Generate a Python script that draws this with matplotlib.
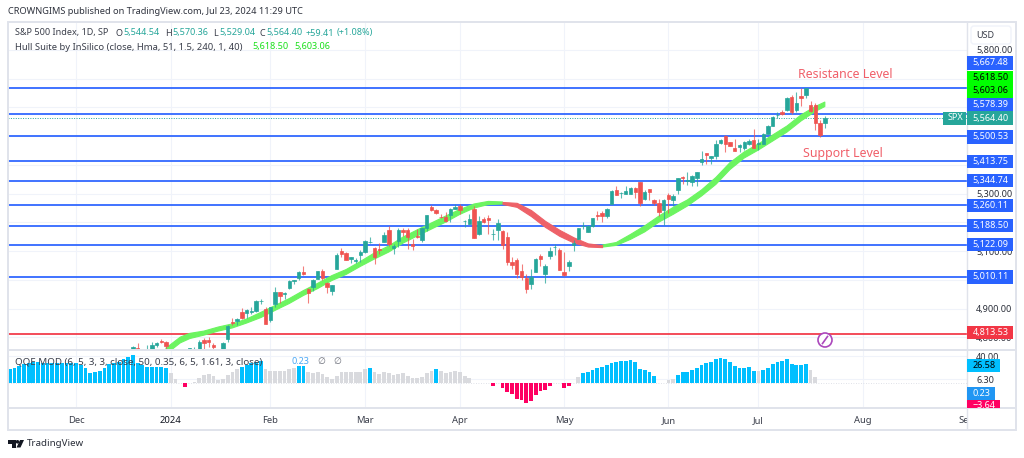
import numpy as np
import matplotlib
matplotlib.use('Agg')
import matplotlib.pyplot as plt
from matplotlib.patches import Rectangle, Circle, Polygon, FancyBboxPatch

plt.rcParams['font.family'] = ['Noto Sans', 'DejaVu Sans']

# daily candles, first one sits at bar 12 (bar 0 = 1 Dec 2023)
first_candle = 12
candle_open = [4743, 4764, 4724, 4753, 4758, 4773, 4786, 4783,
    4745, 4725, 4697, 4690, 4703, 4741, 4759, 4792, 4791, 4772, 4739, 4760, 4796, 4853, 4856, 4888, 4886, 4888, 4892, 4925, 4899,
    4861, 4916, 4957, 4950, 4973, 4995, 5005, 5027, 4968, 4976, 5004, 5032, 4989, 4963, 5039, 5100, 5093, 5074, 5067, 5085,
    5098, 5131, 5110, 5108, 5132, 5173, 5112, 5134, 5174, 5175, 5124, 5154, 5139, 5181, 5253, 5243, 5219, 5220, 5227, 5248,
    5258, 5205, 5194, 5247, 5159, 5211, 5217, 5160, 5172, 5171, 5150, 5064, 5068, 5031, 5006, 4987, 5028, 5084, 5020, 5084, 5114, 5103,
    5029, 5050, 5122, 5142, 5187, 5168, 5189, 5225, 5234, 5221, 5263, 5314, 5303, 5298, 5298, 5319, 5340, 5281, 5315, 5278, 5269, 5244,
    5297, 5278, 5314, 5357, 5343, 5341, 5353, 5409, 5441, 5424, 5431, 5476, 5499, 5479, 5459, 5461, 5460, 5473, 5488,
    5471, 5474, 5507, 5537, 5572, 5584, 5591, 5635, 5590, 5638, 5644, 5610, 5608, 5544, 5544.54]
candle_high = [4769, 4779, 4749, 4773, 4785, 4785, 4794, 4789,
    4754, 4729, 4726, 4721, 4764, 4765, 4790, 4798, 4802, 4782, 4744, 4785, 4842, 4868, 4866, 4903, 4898, 4907, 4929, 4932, 4906,
    4906, 4975, 4958, 4957, 4999, 5000, 5030, 5048, 4971, 5002, 5030, 5038, 4993, 4983, 5094, 5111, 5097, 5081, 5077, 5104,
    5140, 5149, 5114, 5127, 5165, 5189, 5125, 5179, 5179, 5179, 5143, 5176, 5180, 5226, 5261, 5246, 5229, 5236, 5249, 5264,
    5263, 5208, 5229, 5256, 5222, 5219, 5224, 5178, 5211, 5175, 5168, 5079, 5077, 5056, 5019, 5038, 5076, 5089, 5057, 5114, 5124, 5110,
    5096, 5070, 5139, 5181, 5200, 5191, 5215, 5240, 5239, 5250, 5311, 5325, 5306, 5325, 5324, 5323, 5342, 5311, 5315, 5282, 5280, 5280,
    5302, 5298, 5354, 5362, 5376, 5365, 5376, 5447, 5441, 5432, 5488, 5490, 5505, 5480, 5490, 5472, 5483, 5490, 5524,
    5490, 5510, 5539, 5570, 5583, 5590, 5635, 5642, 5655, 5667, 5668, 5622, 5614, 5557, 5570.36]
candle_low = [4743, 4698, 4708, 4737, 4758, 4768, 4780, 4752,
    4722, 4699, 4687, 4682, 4699, 4730, 4756, 4739, 4768, 4739, 4714, 4740, 4785, 4844, 4844, 4865, 4869, 4881, 4887, 4916, 4845,
    4853, 4907, 4918, 4934, 4970, 4987, 5000, 5016, 4920, 4963, 5004, 4999, 4955, 4946, 5038, 5081, 5068, 5058, 5058, 5061,
    5094, 5127, 5056, 5091, 5131, 5117, 5091, 5114, 5151, 5107, 5104, 5145, 5131, 5171, 5240, 5229, 5216, 5203, 5203, 5245,
    5229, 5184, 5194, 5146, 5157, 5197, 5160, 5138, 5139, 5107, 5052, 5039, 5007, 5001, 4954, 4970, 5027, 5047, 4990, 5073, 5088, 5035,
    5013, 5030, 5101, 5142, 5178, 5165, 5183, 5207, 5202, 5217, 5263, 5296, 5284, 5298, 5298, 5286, 5256, 5278, 5279, 5262, 5222, 5191,
    5234, 5257, 5298, 5335, 5331, 5327, 5327, 5398, 5403, 5403, 5420, 5471, 5446, 5465, 5447, 5446, 5451, 5470, 5460,
    5451, 5472, 5507, 5534, 5562, 5574, 5587, 5576, 5584, 5606, 5632, 5584, 5523, 5497, 5529.04]
candle_close = [4768, 4698, 4747, 4755, 4775, 4782, 4783, 4770,
    4743, 4705, 4689, 4697, 4764, 4757, 4783, 4780, 4784, 4766, 4739, 4781, 4840, 4850, 4865, 4869, 4894, 4891, 4928, 4925, 4846,
    4906, 4959, 4943, 4954, 4995, 4998, 5027, 5022, 4953, 5001, 5030, 5006, 4976, 4982, 5087, 5089, 5070, 5078, 5070, 5096,
    5137, 5131, 5079, 5105, 5157, 5124, 5118, 5175, 5165, 5150, 5117, 5149, 5179, 5225, 5242, 5234, 5218, 5204, 5248, 5254,
    5244, 5206, 5211, 5147, 5204, 5202, 5210, 5161, 5199, 5123, 5062, 5051, 5022, 5011, 4967, 5011, 5071, 5072, 5048, 5100, 5116, 5036,
    5018, 5064, 5128, 5181, 5188, 5188, 5214, 5223, 5221, 5247, 5308, 5297, 5303, 5308, 5321, 5307, 5268, 5305, 5306, 5267, 5235, 5278,
    5283, 5291, 5354, 5353, 5347, 5361, 5375, 5421, 5434, 5432, 5473, 5487, 5473, 5465, 5448, 5469, 5478, 5483, 5460,
    5475, 5509, 5537, 5567, 5573, 5577, 5634, 5585, 5615, 5631, 5667, 5588, 5545, 5505, 5564.40]

# hull band read at every third bar, the two edges of the ribbon
hull_bar = [19, 22, 24, 27, 30, 33, 36, 39, 42, 45, 48, 51, 54, 57, 60, 63, 66, 69, 72, 75, 78, 81, 84, 87, 90,
    93, 96, 99, 102, 105, 108, 111, 114, 117, 120, 123, 126, 129, 132, 135, 138, 141, 144, 147, 150, 153, 156, 158]
hull_top = [4763, 4801, 4814, 4822, 4836, 4847, 4864, 4887, 4911, 4935, 4963, 4988, 5015, 5036, 5064, 5094, 5118, 5149, 5174, 5198, 5222, 5245, 5264, 5273, 5271,
    5268, 5243, 5205, 5174, 5148, 5127, 5121, 5130, 5158, 5188, 5222, 5252, 5278, 5313, 5356, 5408, 5445, 5473, 5504, 5535, 5574, 5603, 5618.5]
hull_bottom = [4742, 4781, 4796, 4808, 4822, 4833, 4850, 4869, 4894, 4918, 4946, 4970, 4998, 5019, 5047, 5073, 5097, 5128, 5153, 5177, 5201, 5228, 5250, 5262, 5264,
    5254, 5222, 5184, 5153, 5130, 5116, 5114, 5120, 5141, 5167, 5201, 5228, 5257, 5292, 5332, 5384, 5424, 5452, 5483, 5514, 5553, 5586, 5603.06]
hull_red_from = 90
hull_red_to = 111

blue_levels = [5667.48, 5578.39, 5500.53, 5413.75, 5344.74, 5260.11, 5188.50, 5122.09, 5010.11]
red_level = 4813.53
last_price = 5564.40
price_ticks = [4800, 4900, 5000, 5100, 5200, 5300, 5400, 5500, 5600, 5700, 5800]
# most of these sit fully under the level tags, so they get no text
price_tick_labels = ['4,800.00', '4,900.00', '', '5,100.00', '5,200.00', '5,300.00', '', '', '', '', '5,800.00']

# qqe histogram from bar -14 to bar 156
first_qqe = -14
qqe_values = [21.2, 22.2, 25.6, 28.1, 30.6, 31.6, 31.1, 30.6, 30.6, 30.6, 30.6, 30.6, 30.1, 30.6,
    29.6, 27.1, 23.2, 15.8, 16.3, 18.7, 22.2, 28.1, 29.6, 31.1, 36, 39.4, 41.4, 29.6, 27.1, 24.7, 24.7, 24.7, 24.7, 22.2,
    14.8, 5.9, 0, -5.9, 0, 2.5, 7.4, 12.3, 13.3, 11.3, 4.9, 5.9, 12.3, 16.3, 21.2,
    24.7, 27.1, 29.6, 32, 33, 21.2, 18.7, 18.2, 18.2, 18.2, 21.2, 22.2, 26.1, 26.1,
    17.3, 14.8, 16.3, 13.3, 8.9, 5.9, 11.3, 16.3, 16.3, 16.3, 16.3, 16.3, 20.7, 22.2,
    16.3, 13.3, 16.3, 14.8, 12.3, 13.8, 14.8, 11.3, 8.4, 7.9, 9.9, 14.8, 18.2, 20.7, 18.2, 14.8, 17.3, 18.2, 17.3, 11.3, 7.4,
    0, 0, 0, 0, -3.5, 0, -7.4, -13.3, -16.3, -22.7, -24.7, -28.6, -25.6, -17.3, -10.8, -9.9, -3.9, 0, 0, -6.4, -3.9, 0,
    8.9, 15.8, 17.3, 19.7, 22.2, 24.7, 27.1, 30.6, 32, 32.5, 33, 34, 31.6, 21.2, 19.7, 17.3, 10.8, 0, 0,
    4.9, 5.9, 11.8, 16.3, 17.3, 19.7, 22.2, 27.1, 30.6, 32, 35.5, 37, 35.5, 32, 25.6, 23.2, 23.2, 24.7, 18.7,
    17.7, 19.7, 23.2, 28.1, 31.1, 32.5, 36, 29.1, 27.1, 27.1, 28.1, 19.7, 9.9]
qqe_cyan_spans = [(-14, 19), (35, 39), (47, 48), (62, 62), (76, 76), (107, 122), (127, 143), (145, 154)]
qqe_ticks = [40, 6.3]
qqe_tick_labels = ['40.00', '6.30']

month_bars = [0, 20, 41, 61, 81, 103, 125, 144, 166, 188]
month_labels = ['Dec', '2024', 'Feb', 'Mar', 'Apr', 'May', 'Jun', 'Jul', 'Aug', 'Sep']

# labels on the price scale: text, centre in pixels, colours
scale_labels = [('5,667.48', 63, '#2962ff', 'white'), ('5,618.50', 77.5, '#00ff00', 'black'),
    ('5,603.06', 91, '#00ff00', 'black'), ('5,578.39', 104.5, '#2962ff', 'white'),
    ('5,564.40', 118, '#26a69a', 'white'), ('5,500.53', 137, '#2962ff', 'white'),
    ('5,413.75', 161.5, '#2962ff', 'white'), ('5,344.74', 180.5, '#2962ff', 'white'),
    ('5,260.11', 205.5, '#2962ff', 'white'), ('5,188.50', 225.5, '#2962ff', 'white'),
    ('5,122.09', 244.5, '#2962ff', 'white'), ('5,010.11', 277, '#2962ff', 'white'),
    ('4,813.53', 332.5, '#f23645', 'white')]

W, H = 1024, 458
TEAL = '#26a69a'
RED = '#ef5350'
GRID = '#f0f3fa'
EDGE = '#e0e3eb'
INK = '#3b3f4b'
SMALL = 6.5

fig = plt.figure(figsize=(W / 100, H / 100), dpi=100, facecolor='white')


def pane(top, bottom):
    ax = fig.add_axes([8 / W, 1 - bottom / H, 959 / W, (bottom - top) / H])
    ax.set_xlim(-14.35, 187.97)
    for s in ax.spines.values():
        s.set_visible(False)
    ax.yaxis.tick_right()
    ax.tick_params(length=0, labelsize=SMALL, labelcolor='#2a2e39', pad=6.5)
    ax.set_axisbelow(True)
    ax.grid(True, color=GRID, lw=0.8)
    ax.set_xticks(month_bars)
    return ax


ax = pane(23, 350)
ax.set_ylim(4756.2, 5893.5)
ax.set_yticks(price_ticks)
ax.set_yticklabels(price_tick_labels)
ax.tick_params(axis='x', labelbottom=False)

ax.hlines(blue_levels, -15, 188, color='#2962ff', lw=1.25, zorder=2)
ax.hlines(red_level, -15, 188, color='#f23645', lw=1.25, zorder=2)
ax.axhline(last_price, color=TEAL, lw=0.7, ls=(0, (1, 1.5)), zorder=2)

# hull ribbon
h_x = np.array(hull_bar)
h_top = np.array(hull_top)
h_bot = np.array(hull_bottom)
is_red = (h_x >= hull_red_from) & (h_x <= hull_red_to)
is_green = (h_x <= hull_red_from) | (h_x >= hull_red_to)
ax.fill_between(h_x, h_bot, h_top, where=is_green, color='#6cf460', lw=0.8, zorder=3)
ax.fill_between(h_x, h_bot, h_top, where=is_red, color='#ee6168', lw=0.8, zorder=3)

# candles
c_x = np.arange(first_candle, first_candle + len(candle_close))
c_o = np.array(candle_open, dtype=float)
c_c = np.array(candle_close, dtype=float)
c_col = [TEAL if c >= o else RED for o, c in zip(c_o, c_c)]
ax.vlines(c_x, candle_low, candle_high, colors=c_col, lw=0.8, alpha=0.75, zorder=4)
ax.bar(c_x, np.abs(c_c - c_o), bottom=np.minimum(c_o, c_c), width=0.72, color=c_col,
       edgecolor=c_col, lw=0.5, zorder=5)

# qqe pane
qx = pane(350, 408)
qx.set_ylim(-36.6, 49.3)
qx.set_yticks(qqe_ticks)
qx.set_yticklabels(qqe_tick_labels)
qx.set_xticklabels(month_labels)
qx.tick_params(axis='x', labelsize=6.8, labelcolor=INK, pad=6)
q_x = np.arange(first_qqe, first_qqe + len(qqe_values))
q_col = []
for b, v in zip(q_x, qqe_values):
    if v < 0:
        q_col.append('#ff0062')
    elif any(a <= b <= z for a, z in qqe_cyan_spans):
        q_col.append('#00bfff')
    else:
        q_col.append('#d9dade')
qx.bar(q_x, qqe_values, width=0.8, color=q_col, zorder=3)
qx.axhline(0, color='#d5d8e0', lw=0.6, ls=(0, (1, 2)), zorder=2)

# overlay in image pixels for the frame, the legends and the scale labels
top = fig.add_axes([0, 0, 1, 1], facecolor='none')
top.set_xlim(0, W)
top.set_ylim(H, 0)
top.axis('off')

for label, bar in zip(qx.get_xticklabels(), month_bars):
    if bar == 20:
        label.set_fontweight('bold')
        label.set_color('#131722')
    label.set_clip_path(Rectangle((0, 0), 966.5, H, transform=top.transData))
    label.set_clip_on(True)

top.add_patch(Rectangle((7.5, 22), 1008.5, 407.5, fill=False, ec=EDGE, lw=1.4))
top.plot([967, 967], [22, 429], color=EDGE, lw=1)
top.plot([7.5, 1016], [350, 350], color=EDGE, lw=1.4)
top.plot([7.5, 1016], [408, 408], color=EDGE, lw=1.4)

top.add_patch(FancyBboxPatch((971, 26), 40, 18, boxstyle='round,pad=0,rounding_size=3', fc='white', ec=GRID, lw=1))
top.text(985, 35, 'USD', fontsize=SMALL, color=INK, ha='center', va='center')


def tag(x0, x1, y, text, fc, tc, h=13):
    top.add_patch(Rectangle((x0, y - h / 2), x1 - x0, h, fc=fc, ec='none', zorder=6))
    return top.text((x0 + x1) / 2 + 0.5, y, text, color=tc, fontsize=SMALL, ha='center', va='center', zorder=7)


for text, y, fc, tc in scale_labels:
    tag(967, 1013, y, text, fc, tc, h=13.6)
tag(943, 966, 118, 'SPX', TEAL, 'white')
tag(967, 1000, 365, '26.58', '#00bfff', 'black')
tag(967, 995, 393, '0.23', '#2196f3', 'white')
cut = Rectangle((960, 350), 60, 58, transform=top.transData)
low_box = Rectangle((967, 400), 33, 8, fc='#ff0062', ec='none', zorder=6)
top.add_patch(low_box)
low_txt = top.text(984, 406, '−3.64', color='white', fontsize=SMALL, ha='center', va='center', zorder=7)
low_txt.set_clip_path(cut)
low_txt.set_clip_on(True)

top.text(8, 12, 'CROWNGIMS published on TradingView.com, Jul 23, 2024 11:29 UTC', fontsize=6.65, color='#30343f', va='center')

row1 = [(15, 'S&P 500 Index, 1D, SP', INK), (115, 'O', INK), (123, '5,544.54', TEAL), (165, 'H', INK), (172, '5,570.36', TEAL),
        (213, 'L', INK), (219, '5,529.04', TEAL), (259, 'C', INK), (266, '5,564.40', TEAL), (306, '+59.41', TEAL), (337, '(+1.08%)', TEAL)]
for x, s, col in row1:
    top.text(x, 33, s, fontsize=SMALL, color=col, va='center')
top.text(15, 47, 'Hull Suite by InSilico (close, Hma, 51, 1.5, 240, 1, 40)', fontsize=6.8, color=INK, va='center')
top.text(252, 47, '5,618.50', fontsize=SMALL, color='#18e018', va='center')
top.text(294, 47, '5,603.06', fontsize=SMALL, color='#18e018', va='center')

top.text(15, 362, 'QQE MOD (6, 5, 3, 3, close, 50, 0.35, 6, 5, 1.61, 3, close)', fontsize=7.0, color=INK, va='center', zorder=5)
top.text(292, 362, '0.23', fontsize=SMALL, color='#4aa8f5', va='center')
top.text(321, 362, '∅', fontsize=SMALL, color='#6a6d78', va='center', ha='center')
top.text(337, 362, '∅', fontsize=SMALL, color='#6a6d78', va='center', ha='center')

top.text(845.5, 74, 'Resistance Level', fontsize=8.95, color='#f0606a', ha='center', va='center')
top.text(842.5, 153, 'Support Level', fontsize=8.95, color='#f0606a', ha='center', va='center')

top.add_patch(Circle((825, 340), 7, fc='white', ec='#ab47bc', lw=1.2))
top.plot([822.5, 827.5], [343.5, 336.5], color='#ab47bc', lw=1.2)

# logo
top.add_patch(Polygon([(8, 440), (15.5, 440), (15.5, 447.5), (11.5, 447.5), (11.5, 443.5), (8, 443.5)], fc='#131722', ec='none'))
top.add_patch(Circle((17.5, 441.8), 1.8, fc='#131722', ec='none'))
top.add_patch(Polygon([(20, 440), (24, 440), (20.5, 447.5), (16.5, 447.5)], fc='#131722', ec='none'))
top.text(27, 444, 'TradingView', fontsize=7.0, color='#2a2e39', va='center')

fig.savefig('out.png', dpi=100)
